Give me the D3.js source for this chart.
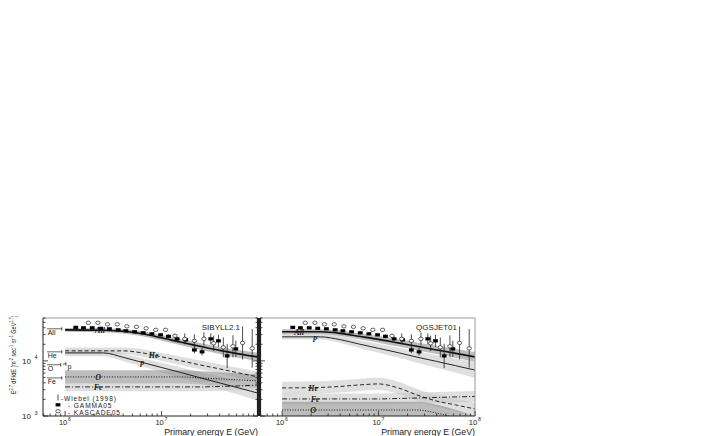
<!DOCTYPE html>
<html>
<head>
<meta charset="utf-8">
<script src="https://cdn.jsdelivr.net/npm/d3@7"></script>
<style>
  body { margin: 0; background: #fff; }
  svg { display: block; font-family: "Liberation Sans", Arial, sans-serif; }
</style>
</head>
<body>
<div id="chart"></div>
<script>
// Energy grid (GeV) of the model curves
const modelE = [1e6, 2.5e6, 4e6, 6.3e6, 1e7, 1.6e7, 2.5e7, 4e7, 6.3e7, 1e8];

// SIBYLL2.1 unfolded fluxes, E^2.7 dF/dE
const sibAll = [36600, 35900, 34400, 31000, 26200, 21700, 18400, 15500, 13400, 11800];
const sibP   = [13960, 13960, 11600, 9390, 7590, 6120, 4950, 3980, 3230, 2600];
const sibHe  = [15200, 15200, 15200, 13960, 11830, 10000, 8460, 7160, 6050, 5120];
const sibO   = [5120, 5120, 5120, 5120, 5120, 5120, 4910, 4710, 4520, 4330];
const sibFe  = [3370, 3370, 3370, 3370, 3370, 3370, 3370, 3440, 3510, 3660];
// uncertainty bands (log10 half width)
const sibAllBand = [0.035, 0.035, 0.04, 0.045, 0.05, 0.055, 0.06, 0.065, 0.07, 0.075];
const sibPBand   = [0.06, 0.06, 0.065, 0.075, 0.085, 0.095, 0.105, 0.115, 0.125, 0.135];
const sibHeBand  = [0.06, 0.06, 0.06, 0.065, 0.07, 0.075, 0.08, 0.085, 0.09, 0.095];
const sibOBand   = [0.12, 0.12, 0.12, 0.12, 0.12, 0.12, 0.12, 0.12, 0.12, 0.12];
const sibFeBand  = [0.08, 0.08, 0.08, 0.08, 0.08, 0.08, 0.08, 0.08, 0.08, 0.08];

// QGSJET01 unfolded fluxes
const qgsAll = [33700, 33700, 31600, 27900, 24600, 21200, 18400, 15800, 13700, 11800];
const qgsP   = [27300, 27300, 24300, 20200, 16900, 14100, 11700, 9790, 8180, 6810];
const qgsHe  = [3230, 3300, 3440, 3660, 3820, 3230, 2410, 1870, 1590, 1340];
const qgsFe  = [2040, 2040, 2040, 2040, 2040, 2080, 2120, 2170, 2220, 2260];
const qgsO   = [1285, 1285, 1285, 1285, 1285, 1285, 1285, 1130, 920, 715];
const qgsAllBand = [0.045, 0.045, 0.05, 0.055, 0.06, 0.065, 0.07, 0.075, 0.08, 0.09];
const qgsPBand   = [0.05, 0.05, 0.06, 0.07, 0.08, 0.09, 0.1, 0.115, 0.13, 0.145];
const qgsHeBand  = [0.11, 0.11, 0.11, 0.11, 0.11, 0.11, 0.11, 0.11, 0.11, 0.11];
const qgsFeBand  = [0.1, 0.1, 0.1, 0.1, 0.1, 0.1, 0.1, 0.1, 0.1, 0.1];
const qgsOBand   = [0.15, 0.15, 0.15, 0.15, 0.15, 0.15, 0.15, 0.15, 0.15, 0.15];

// GAMMA05 all-particle spectrum
const gammaE    = [1.29e6, 1.55e6, 1.91e6, 2.34e6, 2.88e6, 3.55e6, 4.27e6, 5.25e6, 6.46e6, 7.94e6,
                   9.77e6, 1.18e7, 1.45e7, 1.78e7, 2.19e7, 2.63e7, 3.24e7, 3.89e7, 4.79e7, 5.89e7];
const gammaFlux = [40600, 39800, 39800, 39000, 38200, 36600, 35100, 33700, 32300, 31000,
                   29700, 27900, 25100, 24100, 15800, 14600, 25100, 23100, 12300, 16500];
const gammaErr  = [0.015, 0.015, 0.015, 0.015, 0.015, 0.015, 0.015, 0.02, 0.02, 0.02,
                   0.025, 0.035, 0.04, 0.045, 0.06, 0.07, 0.1, 0.11, 0.22, 0.15];

// KASCADE05 all-particle spectrum
const kascadeE    = [1.74e6, 2.19e6, 2.75e6, 3.47e6, 4.37e6, 5.50e6, 6.92e6, 8.71e6, 1.10e7,
                     1.38e7, 1.74e7, 2.19e7, 2.75e7, 3.47e7, 4.37e7, 5.50e7, 6.92e7, 8.71e7];
const kascadeFlux = [49100, 49100, 46100, 46100, 42400, 41500, 39000, 36600, 36600,
                     28500, 25100, 23100, 25100, 20800, 17600, 18400, 21200, 16900];
const kascadeErr  = [0.01, 0.01, 0.01, 0.01, 0.015, 0.015, 0.02, 0.02, 0.025,
                     0.04, 0.1, 0.12, 0.12, 0.14, 0.18, 0.2, 0.3, 0.35];

// Wiebel (1998) direct measurements
const wiebelNames = ["All", "He", "O", "p", "Fe"];
const wiebelE     = [9.25e5, 9.25e5, 9.0e5, 1.02e6, 9.25e5];
const wiebelFlux  = [38200, 14600, 8500, 8800, 4910];
const wiebelErr   = [0.03, 0.03, 0.03, 0.03, 0.03];

const width = 708, height = 436;
const plotTop = 318, plotBottom = 416;

const compStyle = {
  All: { w: 1.6, dash: null,       fill: "#8f8f8f", op: 0.6 },
  p:   { w: 0.9, dash: null,       fill: "#c4c4c4", op: 0.55 },
  He:  { w: 0.9, dash: "4,2.5",    fill: "#c4c4c4", op: 0.55 },
  O:   { w: 1.0, dash: "1,1.6",    fill: "#8f8f8f", op: 0.6 },
  Fe:  { w: 0.9, dash: "5,2,1,2",  fill: "#c4c4c4", op: 0.55 }
};

const panels = [
  { name: "SIBYLL2.1", x0: 43, x1: 258, wiebel: true, xLabels: [6, 7], yLabels: [3, 4],
    comps: [
      { key: "All", flux: sibAll, band: sibAllBand, labelE: 2.3e6 },
      { key: "p",   flux: sibP,   band: sibPBand,   labelE: 6.3e6 },
      { key: "He",  flux: sibHe,  band: sibHeBand,  labelE: 8.3e6 },
      { key: "O",   flux: sibO,   band: sibOBand,   labelE: 2.2e6 },
      { key: "Fe",  flux: sibFe,  band: sibFeBand,  labelE: 2.2e6 }
    ] },
  { name: "QGSJET01", x0: 260, x1: 475, wiebel: false, xLabels: [6, 7, 8], yLabels: [],
    comps: [
      { key: "All", flux: qgsAll, band: qgsAllBand, labelE: 1.5e6 },
      { key: "p",   flux: qgsP,   band: qgsPBand,   labelE: 2.2e6 },
      { key: "He",  flux: qgsHe,  band: qgsHeBand,  labelE: 2.1e6 },
      { key: "Fe",  flux: qgsFe,  band: qgsFeBand,  labelE: 2.2e6 },
      { key: "O",   flux: qgsO,   band: qgsOBand,   labelE: 2.1e6 }
    ] }
];

const svg = d3.select("#chart").append("svg")
    .attr("width", width)
    .attr("height", height);

// text with superscripts: parts = [[text, isSup], ...]
function richText(sel, parts, size) {
  parts.forEach(([t, sup], i) => {
    const prevSup = i > 0 && parts[i - 1][1];
    let dy = 0;
    if (sup && !prevSup) dy = -size * 0.4;
    if (!sup && prevSup) dy = size * 0.4;
    sel.append("tspan")
        .attr("dy", dy)
        .style("font-size", (sup ? size * 0.7 : size) + "px")
        .text(t);
  });
}

panels.forEach((p, pi) => {
  const x = d3.scaleLog().domain([5.9e5, 1e8]).range([p.x0, p.x1]);
  const y = d3.scaleLog().domain([1e3, 6e4]).range([plotBottom, plotTop]);

  const clipId = "clip" + pi;
  svg.append("clipPath").attr("id", clipId)
    .append("rect")
      .attr("x", p.x0).attr("y", plotTop)
      .attr("width", p.x1 - p.x0).attr("height", plotBottom - plotTop);

  const g = svg.append("g").attr("clip-path", `url(#${clipId})`);

  // bands
  p.comps.forEach(c => {
    const st = compStyle[c.key];
    const area = d3.area()
        .x((d, i) => x(modelE[i]))
        .y0((d, i) => y(d * Math.pow(10, -c.band[i])))
        .y1((d, i) => y(d * Math.pow(10, c.band[i])))
        .curve(d3.curveMonotoneX);
    g.append("path")
        .datum(c.flux)
        .attr("d", area)
        .attr("fill", st.fill)
        .attr("fill-opacity", st.op);
  });

  // model lines
  p.comps.forEach(c => {
    const st = compStyle[c.key];
    const line = d3.line()
        .x((d, i) => x(modelE[i]))
        .y(d => y(d))
        .curve(d3.curveMonotoneX);
    g.append("path")
        .datum(c.flux)
        .attr("d", line)
        .attr("fill", "none")
        .attr("stroke", "#111")
        .attr("stroke-width", st.w)
        .attr("stroke-dasharray", st.dash);
  });

  // italic labels sitting on the lines
  p.comps.forEach(c => {
    const interp = d3.scaleLog().domain(modelE).range(c.flux.map(Math.log10));
    const ly = y(Math.pow(10, interp(c.labelE)));
    g.append("text")
        .attr("x", x(c.labelE))
        .attr("y", ly + 3)
        .attr("text-anchor", "middle")
        .style("font-family", "'Liberation Serif', 'DejaVu Serif', serif")
        .style("font-style", "italic")
        .style("font-weight", "bold")
        .style("font-size", "8px")
        .attr("fill", "#222")
        .text(c.key);
  });

  // data points: error bars
  const pts = g.append("g");
  gammaE.forEach((e, i) => {
    pts.append("line")
        .attr("x1", x(e)).attr("x2", x(e))
        .attr("y1", y(gammaFlux[i] * Math.pow(10, gammaErr[i])))
        .attr("y2", y(gammaFlux[i] * Math.pow(10, -gammaErr[i])))
        .attr("stroke", "#222").attr("stroke-width", 0.8);
  });
  kascadeE.forEach((e, i) => {
    pts.append("line")
        .attr("x1", x(e)).attr("x2", x(e))
        .attr("y1", y(kascadeFlux[i] * Math.pow(10, kascadeErr[i])))
        .attr("y2", y(kascadeFlux[i] * Math.pow(10, -kascadeErr[i])))
        .attr("stroke", "#222").attr("stroke-width", 0.8);
  });
  // GAMMA05 filled boxes
  pts.selectAll("rect.gamma")
    .data(gammaE)
    .join("rect")
      .attr("class", "gamma")
      .attr("x", d => x(d) - 2.4)
      .attr("y", (d, i) => y(gammaFlux[i]) - 1.6)
      .attr("width", 4.8)
      .attr("height", 3.2)
      .attr("fill", "#000");
  // KASCADE05 open circles
  pts.selectAll("ellipse.kascade")
    .data(kascadeE)
    .join("ellipse")
      .attr("class", "kascade")
      .attr("cx", d => x(d))
      .attr("cy", (d, i) => y(kascadeFlux[i]))
      .attr("rx", 2.2)
      .attr("ry", 1.7)
      .attr("fill", "#fff")
      .attr("stroke", "#222")
      .attr("stroke-width", 0.7);

  // Wiebel points with labels
  if (p.wiebel) {
    const wg = svg.append("g");
    wiebelE.forEach((e, i) => {
      const px = x(e), py = y(wiebelFlux[i]);
      wg.append("line")
          .attr("x1", px).attr("x2", px)
          .attr("y1", y(wiebelFlux[i] * Math.pow(10, wiebelErr[i])))
          .attr("y2", y(wiebelFlux[i] * Math.pow(10, -wiebelErr[i])))
          .attr("stroke", "#222").attr("stroke-width", 0.8);
      const name = wiebelNames[i];
      if (name === "p") {
        wg.append("line").attr("x1", px - 3).attr("x2", px).attr("y1", py).attr("y2", py)
            .attr("stroke", "#222").attr("stroke-width", 0.7);
        wg.append("text").attr("x", px + 1.5).attr("y", py + 5)
            .style("font-size", "7px").attr("fill", "#222").text(name);
      } else {
        wg.append("line").attr("x1", x(6.5e5)).attr("x2", px).attr("y1", py).attr("y2", py)
            .attr("stroke", "#222").attr("stroke-width", 0.7);
        wg.append("text").attr("x", x(6.6e5)).attr("y", py + 6.5)
            .style("font-size", "7px").attr("fill", "#222").text(name);
      }
    });
  }

  // frame
  svg.append("line").attr("x1", p.x0).attr("x2", p.x1).attr("y1", plotTop).attr("y2", plotTop)
      .attr("stroke", "#9a9a9a").attr("stroke-width", 1);
  svg.append("line").attr("x1", p.x0).attr("x2", p.x1).attr("y1", plotBottom).attr("y2", plotBottom)
      .attr("stroke", "#222").attr("stroke-width", 1);
  svg.append("line").attr("x1", p.x0).attr("x2", p.x0).attr("y1", plotTop).attr("y2", plotBottom)
      .attr("stroke", "#222").attr("stroke-width", pi === 0 ? 1 : 2.2);
  svg.append("line").attr("x1", p.x1).attr("x2", p.x1).attr("y1", plotTop).attr("y2", plotBottom)
      .attr("stroke", pi === 0 ? "#222" : "#9a9a9a").attr("stroke-width", pi === 0 ? 2.2 : 1);

  // x ticks
  const ax = svg.append("g");
  x.ticks().forEach(t => {
    const major = Math.abs(Math.log10(t) - Math.round(Math.log10(t))) < 1e-6;
    ax.append("line")
        .attr("x1", x(t)).attr("x2", x(t))
        .attr("y1", plotBottom).attr("y2", plotBottom - (major ? 5 : 2.5))
        .attr("stroke", "#222").attr("stroke-width", 0.8);
  });
  p.xLabels.forEach(n => {
    const tx = x(Math.pow(10, n));
    ax.append("text").attr("x", tx - 2).attr("y", 425)
        .attr("text-anchor", "middle").style("font-size", "7.5px").attr("fill", "#222").text("10");
    ax.append("text").attr("x", tx + 3).attr("y", 420.5)
        .style("font-size", "5.2px").attr("fill", "#222").text(n);
  });

  // y ticks (left side of each panel pointing in, right side of left panel pointing in)
  y.ticks().forEach(t => {
    const major = Math.abs(Math.log10(t) - Math.round(Math.log10(t))) < 1e-6;
    const len = major ? 5 : 2.5;
    ax.append("line")
        .attr("x1", p.x0).attr("x2", p.x0 + len)
        .attr("y1", y(t)).attr("y2", y(t))
        .attr("stroke", "#222").attr("stroke-width", 0.8);
    if (pi === 0) {
      ax.append("line")
          .attr("x1", p.x1).attr("x2", p.x1 - len)
          .attr("y1", y(t)).attr("y2", y(t))
          .attr("stroke", "#222").attr("stroke-width", 0.8);
    }
  });
  p.yLabels.forEach(n => {
    const ty = y(Math.pow(10, n));
    ax.append("text").attr("x", 31).attr("y", ty + 3)
        .attr("text-anchor", "end").style("font-size", "8px").attr("fill", "#222").text("10");
    ax.append("text").attr("x", 34.5).attr("y", ty - 1.5)
        .style("font-size", "5.5px").attr("fill", "#222").text(n);
  });

  // model name
  svg.append("text")
      .attr("x", p.x1 - 18).attr("y", 330)
      .attr("text-anchor", "end")
      .style("font-size", "8px")
      .attr("fill", "#222")
      .text(p.name);

  // x-axis title
  svg.append("text")
      .attr("x", p.x1).attr("y", 434.5)
      .attr("text-anchor", "end")
      .style("font-size", "8.8px")
      .attr("fill", "#222")
      .text("Primary energy E (GeV)");
});

// y-axis title (compressed along its length like the original)
const yTitle = svg.append("text")
    .attr("transform", "translate(16,355) rotate(-90) scale(0.74,1)")
    .attr("text-anchor", "middle")
    .attr("fill", "#222");
richText(yTitle, [["E", 0], ["2.7", 1], [" dF/dE [m", 0], ["-2", 1], [" sec", 0], ["-1", 1],
                  [" sr", 0], ["-1", 1], [" GeV", 0], ["1.7", 1], ["]", 0]], 7.4);

// legend
const lg = svg.append("g").style("font-size", "6.6px").style("letter-spacing", "0.9px").attr("fill", "#222");
lg.append("line").attr("x1", 58).attr("x2", 58).attr("y1", 394.5).attr("y2", 400.5)
    .attr("stroke", "#222").attr("stroke-width", 0.8);
lg.append("text").attr("x", 61).attr("y", 400.5).text("-Wiebel (1998)");
lg.append("rect").attr("x", 55.6).attr("y", 403.2).attr("width", 4.8).attr("height", 3.2).attr("fill", "#000");
lg.append("text").attr("x", 68).attr("y", 407.5).text("- GAMMA05");
lg.append("ellipse").attr("cx", 58).attr("cy", 411.2).attr("rx", 2.2).attr("ry", 1.7)
    .attr("fill", "#fff").attr("stroke", "#222").attr("stroke-width", 0.7);
lg.append("text").attr("x", 68).attr("y", 414.5).text("- KASCADE05");
</script>
</body>
</html>
